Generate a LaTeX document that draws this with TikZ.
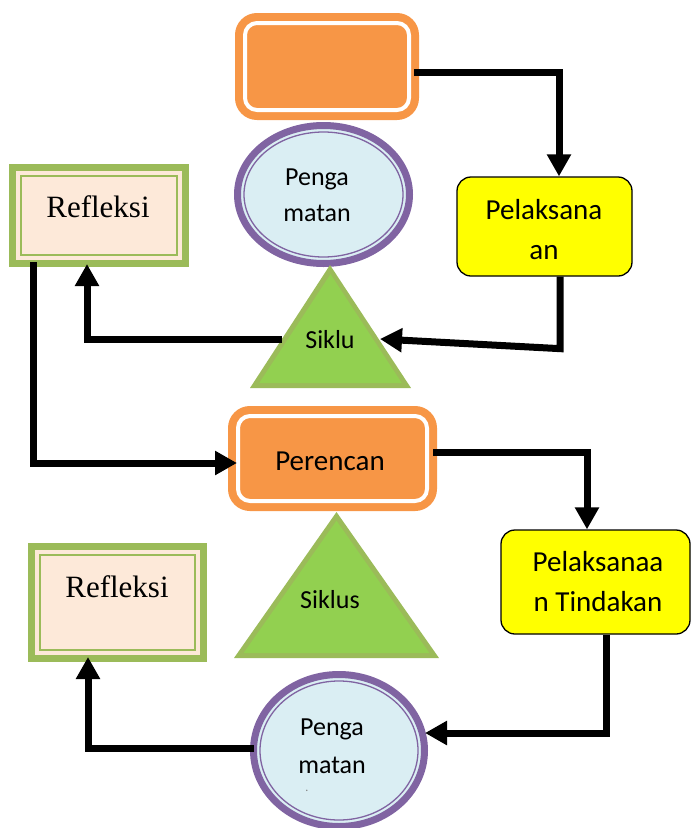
\documentclass[tikz,border=0pt]{standalone}
\usepackage{fontspec}
\setmainfont{Carlito}
\newfontfamily\seriffont{Liberation Serif}
\usetikzlibrary{arrows.meta,shapes.geometric,calc}
\definecolor{orng}{HTML}{F79646}
\definecolor{purp}{HTML}{8064A2}
\definecolor{lblue}{HTML}{DAEEF3}
\definecolor{grnfill}{HTML}{92D050}
\definecolor{grnline}{HTML}{9BBB59}
\definecolor{peach}{HTML}{FDE9D9}
\definecolor{yel}{HTML}{FFFF00}
\tikzset{
  orangebox/.style={draw=orng, fill=orng, line width=8pt, rounded corners=18pt, inner sep=0pt},
  whiteline/.style={draw=white, line width=4pt, rounded corners=12pt},
  obsv/.style={ellipse, draw=purp, fill=lblue, line width=7pt, inner sep=0pt},
  obsvinner/.style={draw=purp, line width=1.3pt},
  yellowbox/.style={draw=black, fill=yel, line width=1.3pt, rounded corners=14pt, inner sep=0pt},
  reflbox/.style={draw=grnline, fill=peach, line width=7pt, inner sep=0pt},
  reflinner/.style={draw=grnline, line width=2pt},
  tri/.style={fill=grnline},
  triin/.style={fill=grnfill},
  conn/.style={line width=7pt, line join=miter, -{Triangle[width=23pt,length=22pt]}},
  txt/.style={inner sep=0pt, align=center, font=\fontsize{29}{40}\selectfont},
  txtsmall/.style={inner sep=0pt, align=center, font=\fontsize{26}{36.5}\selectfont},
  reftxt/.style={inner sep=0pt, font=\seriffont\fontsize{31}{31}\selectfont}
}
\begin{document}
\begin{tikzpicture}[x=1pt,y=-1pt]
\useasboundingbox (0,0) rectangle (691,828);

% ---- top orange box (empty)
\node[orangebox, minimum width=176pt, minimum height=99pt] (o1) at (327,66.5) {};
\draw[whiteline] ($(o1.north west)+(10,10)$) rectangle ($(o1.south east)+(-10,-10)$);

% ---- top observation ellipse
\node[obsv, minimum width=172pt, minimum height=138pt] (c1) at (323.5,194.5) {};
\draw[obsvinner] (c1.center) ellipse [x radius=79.5pt, y radius=62.5pt];
\node[txtsmall] (c1t) at (317,195) {Penga\\matan};

% ---- top pelaksanaan box
\node[yellowbox, minimum width=175pt, minimum height=99pt] (p1) at (544.5,226.5) {};
\node[txt] (p1t) at (544,230) {Pelaksana\\an};

% ---- top refleksi box
\node[reflbox, minimum width=173pt, minimum height=96pt] (r1) at (99,215.5) {};
\draw[reflinner] ($(r1.north west)+(12.4,12.4)$) rectangle ($(r1.south east)+(-12.4,-12.4)$);
\node[reftxt] (r1t) at (98,207) {Refleksi};

% ---- top triangle
\fill[tri] (330,265) -- (411,388) -- (250,388) -- cycle;
\fill[triin] (330.5,274.1) -- (401.8,383) -- (259.2,383) -- cycle;
\node[txtsmall] (t1) at (330,339.5) {Siklu};
\coordinate (t1r) at (380,339);
\coordinate (t1l) at (282,339);

% ---- perencanaan box
\node[orangebox, minimum width=201pt, minimum height=97pt] (o2) at (332.5,458.5) {};
\draw[whiteline] ($(o2.north west)+(10,10)$) rectangle ($(o2.south east)+(-10,-10)$);
\node[txt] (o2t) at (330,461.5) {Perencan};

% ---- bottom triangle
\fill[tri] (336.5,512) -- (439,658) -- (234,658) -- cycle;
\fill[triin] (336.5,520.7) -- (429.4,653) -- (243.6,653) -- cycle;
\node[txtsmall] (t2) at (330,600) {Siklus};

% ---- pelaksanaan tindakan box
\node[yellowbox, minimum width=189pt, minimum height=104pt] (p2) at (595.5,582) {};
\node[txt] (p2t) at (598,582) {Pelaksanaa\\n Tindakan};

% ---- bottom refleksi box
\node[reflbox, minimum width=172pt, minimum height=112pt] (r2) at (117.5,602.5) {};
\draw[reflinner] ($(r2.north west)+(12.4,12.4)$) rectangle ($(r2.south east)+(-12.4,-12.4)$);
\node[reftxt] (r2t) at (117,587) {Refleksi};

% ---- bottom observation ellipse
\node[obsv, minimum width=171pt, minimum height=152pt] (c2) at (339,750.5) {};
\draw[obsvinner] (c2.center) ellipse [x radius=79pt, y radius=69.5pt];
\node[inner sep=0pt, align=center, font=\fontsize{26}{38}\selectfont] (c2t) at (332,746) {Penga\\matan};
\node[inner sep=0pt, font=\fontsize{12}{12}\selectfont, text=gray] (c2d) at (307,791) {.};
\coordinate (c2r) at (425,733);

% ---- connectors
\draw[conn] ([xshift=-5pt,yshift=-5.5pt]o1.east) -| ([xshift=14.5pt]p1.north);
\draw[conn] ([xshift=15.5pt]p1.south) -- ++(0,72) -- (t1r);
\draw[conn] (t1l) -| ([xshift=-12pt,yshift=3pt]r1.south);
\draw[conn] ([xshift=-66pt,yshift=5pt]r1.south) |- ([xshift=9pt,yshift=-4.5pt]o2.west);
\draw[conn] ([xshift=-4pt,yshift=6.5pt]o2.east) -| ([xshift=-8.5pt]p2.north);
\draw[conn] ([xshift=10.5pt]p2.south) |- (c2r);
\draw[conn] ([xshift=4pt,yshift=2.5pt]c2.west) -| ([xshift=-29.5pt,yshift=5pt]r2.south);
\end{tikzpicture}
\end{document}
